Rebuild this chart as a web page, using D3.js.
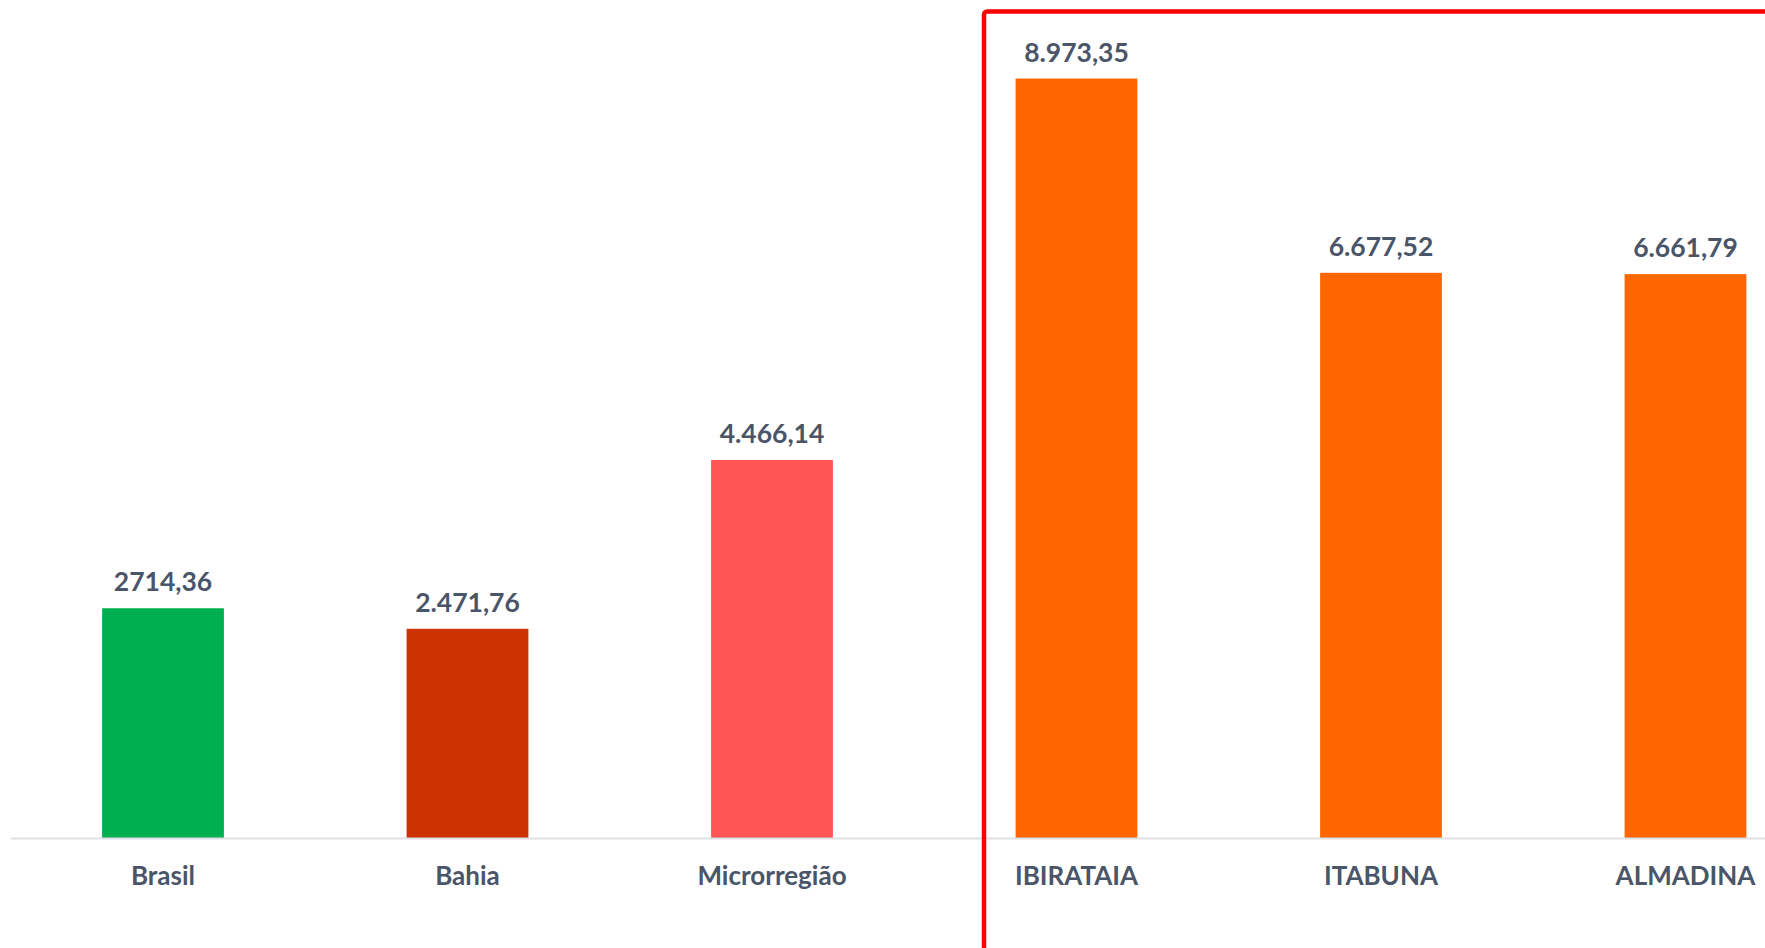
<!DOCTYPE html>
<html><head><meta charset="utf-8">
<script src="https://cdn.jsdelivr.net/npm/d3@7"></script>
<style>html,body{margin:0;padding:0;background:#fff;overflow:hidden}</style>
</head><body>
<script>
const categories = ["Brasil","Bahia","Microrregião","IBIRATAIA","ITABUNA","ALMADINA"];
const values = [2714.36, 2471.76, 4466.14, 8973.35, 6677.52, 6661.79];
const valueLabels = ["2714,36","2.471,76","4.466,14","8.973,35","6.677,52","6.661,79"];
const colors = ["#00b050","#cc3300","#ff5555","#ff6600","#ff6600","#ff6600"];

const W = 1765, H = 948;
const svg = d3.select("body").append("svg").attr("width", W).attr("height", H);

const x = d3.scaleBand().domain(categories).range([10.75, 1837.75]).paddingInner(0.6).paddingOuter(0.3);
const baseY = 838;
const y = d3.scaleLinear().domain([0, 8973.35]).range([baseY, 78.5]);

svg.selectAll("rect.bar").data(categories).enter().append("rect")
  .attr("class","bar")
  .attr("x", d => x(d)).attr("width", x.bandwidth())
  .attr("y", (d,i) => y(values[i])).attr("height", (d,i) => baseY - y(values[i]))
  .attr("fill", (d,i) => colors[i]);

svg.append("line").attr("x1", 11).attr("x2", W).attr("y1", baseY+0.5).attr("y2", baseY+0.5)
  .attr("stroke", "#dde1e6").attr("stroke-width", 2);

svg.selectAll("text.val").data(categories).enter().append("text")
  .attr("class","val")
  .attr("x", d => x(d) + x.bandwidth()/2)
  .attr("y", (d,i) => y(values[i]) - 17)
  .attr("text-anchor","middle")
  .attr("font-family","Lato, 'Open Sans', sans-serif").attr("font-weight","bold").attr("font-size", 26.5)
  .attr("fill","#4a5569")
  .text((d,i) => valueLabels[i]);

svg.selectAll("text.cat").data(categories).enter().append("text")
  .attr("class","cat")
  .attr("x", d => x(d) + x.bandwidth()/2)
  .attr("y", 885)
  .attr("text-anchor","middle")
  .attr("font-family","Lato, 'Open Sans', sans-serif").attr("font-weight","bold").attr("font-size", 26)
  .attr("fill","#4a5569")
  .text(d => d);

svg.append("rect").attr("x", 984).attr("y", 11.5).attr("width", 1000).attr("height", 1000)
  .attr("rx", 3)
  .attr("fill","none").attr("stroke","#ff0000").attr("stroke-width", 4.5);
</script>
</body></html>
